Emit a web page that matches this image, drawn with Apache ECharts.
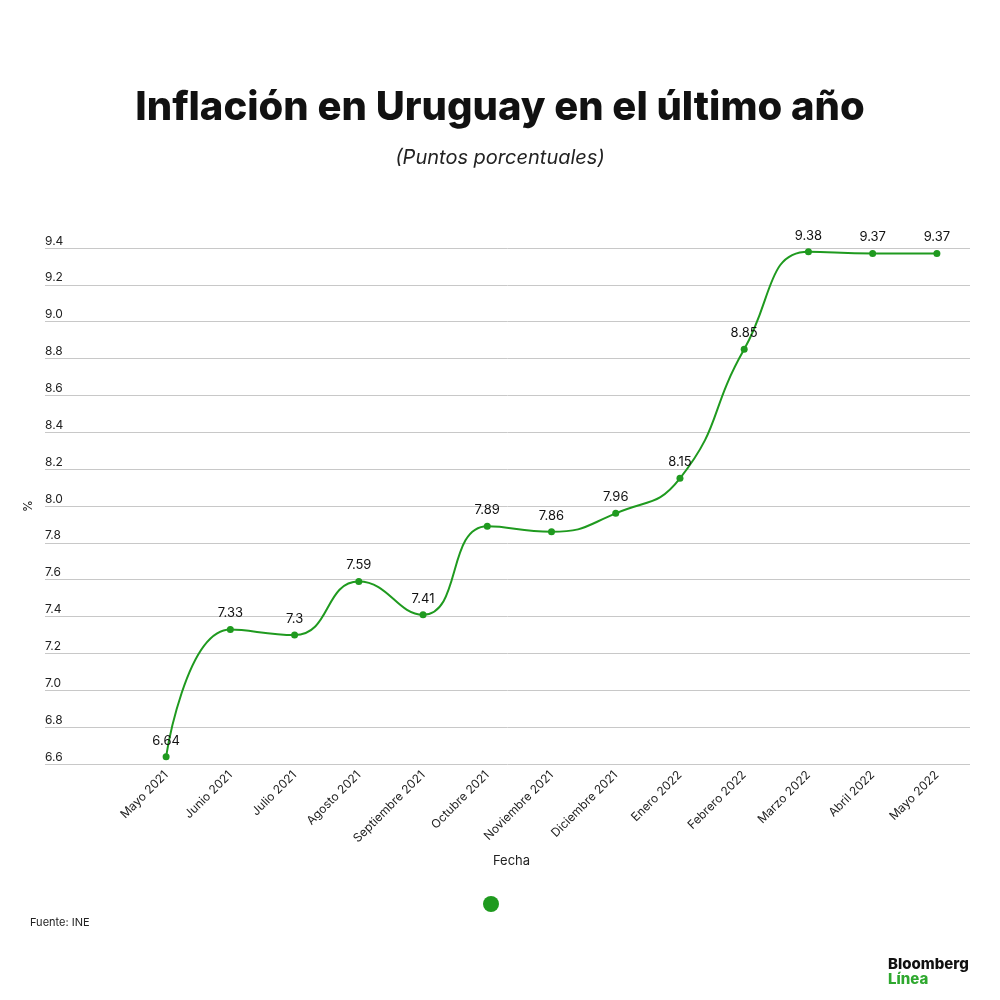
<!DOCTYPE html>
<html>
<head>
<meta charset="utf-8">
<script src="https://cdn.jsdelivr.net/npm/echarts@6/dist/echarts.min.js"></script>
<style>
  html, body { margin: 0; padding: 0; background: #fff; }
  #chart { width: 1000px; height: 1000px; }
</style>
</head>
<body>
<div id="chart"></div>
<script>
// datos
const months = ['Mayo 2021', 'Junio 2021', 'Julio 2021', 'Agosto 2021', 'Septiembre 2021', 'Octubre 2021',
  'Noviembre 2021', 'Diciembre 2021', 'Enero 2022', 'Febrero 2022', 'Marzo 2022', 'Abril 2022', 'Mayo 2022']
const inflation = [6.64, 7.33, 7.3, 7.59, 7.41, 7.89, 7.86, 7.96, 8.15, 8.85, 9.38, 9.37, 9.37]
const yMin = 6.6, yMax = 9.4, yStep = 0.2

const green = '#1f9a1f'
const font = 'Inter, "Noto Sans", sans-serif'

const chart = echarts.init(document.getElementById('chart'))

chart.setOption({
  backgroundColor: '#fff',
  animation: false,
  textStyle: { fontFamily: font },
  title: [
    {
      text: 'Inflación en Uruguay en el último año',
      left: 'center',
      top: 83,
      textStyle: { fontSize: 40, fontWeight: 800, color: '#111', fontFamily: font }
    },
    {
      text: '(Puntos porcentuales)',
      left: 'center',
      top: 143,
      textStyle: { fontSize: 20, fontWeight: 'normal', fontStyle: 'italic', color: '#222', fontFamily: font }
    }
  ],
  legend: {
    data: ['Inflación'],
    top: 891,
    left: 478,
    icon: 'circle',
    itemWidth: 16,
    itemHeight: 16,
    formatter: () => '',
    selectedMode: false
  },
  // grid 0: líneas horizontales, etiquetas del eje y y nombre del eje x; grid 1: la serie
  grid: [
    { left: 45, right: 30, top: 248, bottom: 236 },
    { left: 134, right: 31, top: 248, bottom: 236 }
  ],
  xAxis: [
    {
      gridIndex: 0,
      type: 'value',
      min: 0,
      max: 1,
      axisLine: { show: false },
      axisTick: { show: false },
      axisLabel: { show: false },
      splitLine: { show: false },
      name: 'Fecha',
      nameLocation: 'middle',
      nameGap: 91,
      nameTextStyle: { color: '#222', fontSize: 13, padding: [0, 0, 0, 8] }
    },
    {
      gridIndex: 1,
      type: 'category',
      data: months,
      axisLine: { show: false },
      axisTick: { show: false },
      axisLabel: { rotate: 45, color: '#222', fontSize: 12, margin: 9, interval: 0 }
    }
  ],
  yAxis: [
    {
      gridIndex: 0,
      type: 'value',
      min: yMin,
      max: yMax,
      interval: yStep,
      axisLine: { show: false },
      axisTick: { show: false },
      splitLine: { lineStyle: { color: '#c8c8c8', width: 1 } },
      axisLabel: {
        inside: true,
        margin: 0,
        verticalAlign: 'bottom',
        padding: [0, 0, 1, 0],
        color: '#222',
        fontSize: 12,
        formatter: v => v.toFixed(1)
      },
      name: '%',
      nameLocation: 'middle',
      nameGap: 8,
      nameRotate: 90,
      nameTextStyle: { color: '#222', fontSize: 12 }
    },
    { gridIndex: 1, type: 'value', min: yMin, max: yMax, interval: yStep, show: false }
  ],
  series: [
    {
      name: 'Inflación',
      type: 'line',
      xAxisIndex: 1,
      yAxisIndex: 1,
      data: inflation,
      smooth: true,
      symbol: 'circle',
      symbolSize: 7,
      itemStyle: { color: green },
      lineStyle: { color: green, width: 2 },
      label: {
        show: true,
        position: 'top',
        distance: 6,
        color: '#111',
        fontSize: 13
      }
    }
  ],
  graphic: [
    {
      type: 'text',
      left: 30,
      top: 917,
      style: { text: 'Fuente: INE', fill: '#222', font: '11px ' + font }
    },
    {
      type: 'text',
      left: 888,
      top: 957,
      style: { text: 'Bloomberg', fill: '#111', font: '800 15px ' + font }
    },
    {
      type: 'text',
      left: 888,
      top: 972,
      style: { text: 'Línea', fill: '#2ea82e', font: '800 15px ' + font }
    }
  ]
})
</script>
</body>
</html>
